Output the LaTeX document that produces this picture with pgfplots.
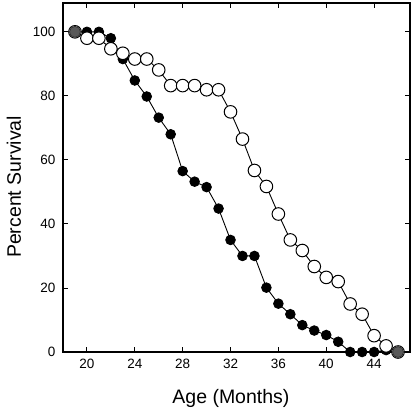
\documentclass[border=0pt]{standalone}
\usepackage{pgfplots}
\pgfplotsset{compat=1.18}
\usepackage{fontspec}
\setmainfont{Liberation Sans}
\begin{document}
\begin{tikzpicture}
\begin{axis}[
  at={(0,0)}, anchor=south west,
  scale only axis, width=347pt, height=349pt,
  xmin=18, xmax=47, ymin=0, ymax=109,
  xtick={20,24,...,44}, ytick={0,20,...,100},
  tick align=inside, major tick length=5pt,
  tick style={line width=0.9pt, black},
  axis line style={line width=1.3pt},
  ticklabel style={font=\fontsize{13.5}{15}\selectfont},
  xticklabel style={yshift=-4pt},
  yticklabel style={xshift=-4pt},
  /pgf/number format/assume math mode=true,
  xlabel={Age (Months)}, ylabel={Percent Survival},
  label style={font=\fontsize{19.5}{22}\selectfont},
  xlabel style={at={(axis description cs:0.484,0)}, yshift=-46pt, anchor=center},
  ylabel style={at={(axis description cs:0,0.473)}, yshift=49pt, anchor=center},
  clip=false,
]
\addplot[black, line width=0.9pt, mark=*, mark size=4.8pt, mark options={fill=black}] coordinates {
(19,100)(20,100)(21,100)(22,98)(23,91.5)(24,84.8)(25,79.8)(26,73.2)(27,68)(28,56.5)(29,53.2)(30,51.5)
(31,44.8)(32,35)(33,30)(34,30)(35,20.1)(36,15.1)(37,11.8)(38,8.4)(39,6.7)(40,5.3)(41,3.2)(42,0)(43,0)(44,0)(45,0.6)(46,0)};
\addplot[black, line width=0.9pt, mark=*, mark size=6.3pt, mark options={fill=white, line width=1pt}] coordinates {
(19,100)(20,98)(21,98)(22,94.7)(23,93.3)(24,91.5)(25,91.5)(26,88.1)(27,83.2)(28,83.2)(29,83.2)(30,81.9)(31,81.9)
(32,75)(33,66.5)(34,56.7)(35,51.7)(36,43.1)(37,35)(38,31.7)(39,26.7)(40,23.3)(41,22)(42,15)(43,11.8)(44,5.1)(45,1.9)(46,0)};
\addplot[only marks, mark=*, mark size=5.5pt, mark options={fill=black!65, draw=black!80, line width=0.8pt}] coordinates {(19,100)(46,0)};
\end{axis}
\pgfresetboundingbox
\path[use as bounding box] (-63pt,-61pt) rectangle (352pt,352pt);
\end{tikzpicture}
\end{document}
